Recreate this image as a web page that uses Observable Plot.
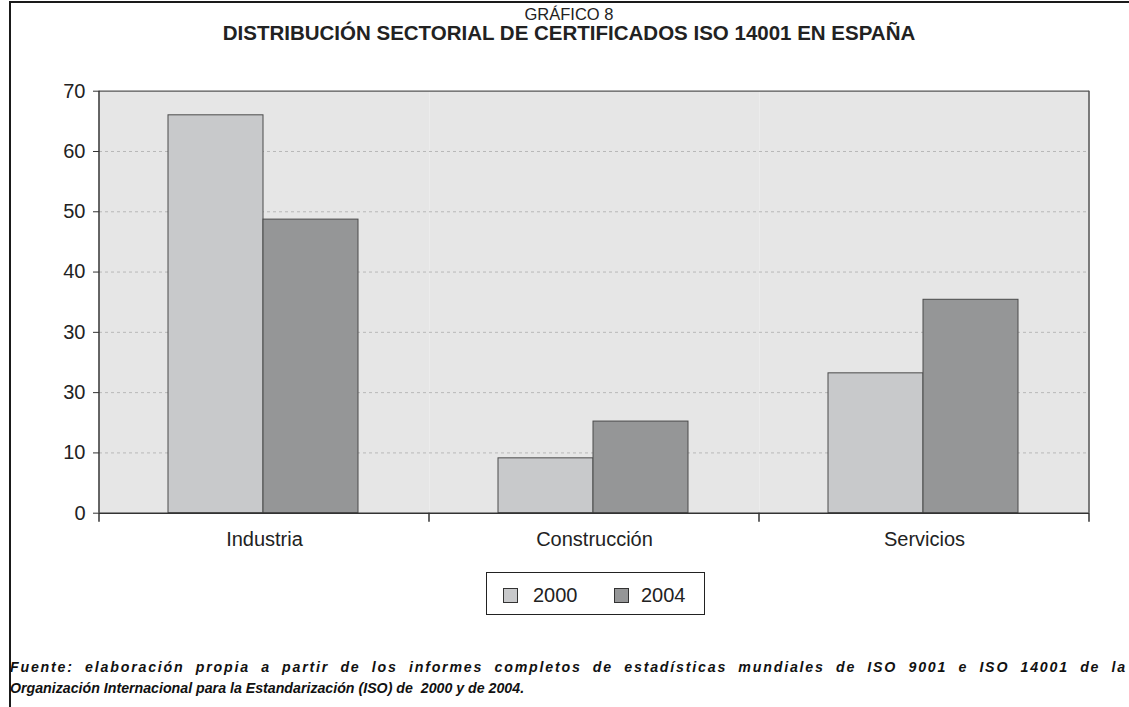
<!DOCTYPE html>
<html>
<head>
<meta charset="utf-8">
<script src="https://cdn.jsdelivr.net/npm/d3@7"></script>
<script src="https://cdn.jsdelivr.net/npm/@observablehq/plot@0.6"></script>
<style>
  html, body { margin: 0; padding: 0; background: #fff; }
  #page { position: relative; width: 1129px; height: 707px; overflow: hidden; font-family: "Liberation Sans", Arial, sans-serif; color: #222; }
  #border { position: absolute; left: 9px; top: 1px; width: 1130px; height: 720px; border-left: 2px solid #1a1a1a; border-top: 2px solid #1a1a1a; }
  .t1 { position: absolute; left: 0; width: 1138px; text-align: center; font-size: 16.5px; line-height: 16.5px; top: 6px; }
  .t2 { position: absolute; left: 0; width: 1138px; text-align: center; font-size: 20.5px; line-height: 20.5px; font-weight: bold; top: 23px; }
  #chart { position: absolute; left: 0; top: 60px; }
  #legend { position: absolute; left: 486px; top: 572px; width: 217px; height: 41px; border: 1.5px solid #222; }
  .sw { position: absolute; width: 13px; height: 13px; border: 1px solid #333; top: 15px; }
  .lt { position: absolute; font-size: 20px; line-height: 20px; top: 12px; color: #222; }
  .foot { position: absolute; left: 10px; width: 1117px; font-size: 14.2px; line-height: 21px; font-weight: bold; font-style: italic; color: #111; white-space: pre; }
  #f1 { top: 657px; text-align: justify; text-align-last: justify; white-space: normal; letter-spacing: 1.8px; }
  #f2 { top: 678px; }
</style>
</head>
<body>
<div id="page">
  <div id="border"></div>
  <div class="t1" id="title1"></div>
  <div class="t2" id="title2"></div>
  <div id="chart"></div>
  <div id="legend"></div>
  <div class="foot" id="f1"></div>
  <div class="foot" id="f2"></div>
</div>
<script>
// ---- data ----
const categories = ["Industria", "Construcción", "Servicios"];
const years = ["2000", "2004"];
const values2000 = [66, 9.1, 23.2];
const values2004 = [48.7, 15.2, 35.4];
const yTicks = [0, 10, 20, 30, 40, 50, 60, 70];
const yTickLabels = ["0", "10", "30", "30", "40", "50", "60", "70"];
const gridTicks = [10, 20, 30, 40, 50, 60];
const yearColors = ["#c8c9cb", "#959697"];
const titleTop = "GRÁFICO 8";
const titleMain = "DISTRIBUCIÓN SECTORIAL DE CERTIFICADOS ISO 14001 EN ESPAÑA";
const footLine1 = "Fuente: elaboración propia a partir de los informes completos de estadísticas mundiales de ISO 9001 e ISO 14001 de la";
const footLine2 = "Organización Internacional para la Estandarización (ISO) de  2000 y de 2004.";

const data = [];
categories.forEach((c, i) => {
  data.push({category: c, year: years[0], value: values2000[i]});
  data.push({category: c, year: years[1], value: values2004[i]});
});

document.getElementById("title1").textContent = titleTop;
document.getElementById("title2").textContent = titleMain;
document.getElementById("f1").textContent = footLine1;
document.getElementById("f2").textContent = footLine2;

const chart = Plot.plot({
  width: 1129,
  height: 500,
  marginLeft: 98,
  marginRight: 39,
  marginTop: 30.7,
  marginBottom: 47.3,
  style: {fontFamily: '"Liberation Sans", Arial, sans-serif', background: "transparent", color: "#222", overflow: "visible"},
  fx: {domain: categories, padding: 0, label: null},
  x: {domain: years, paddingInner: 0, paddingOuter: 0.735, align: 0.49, axis: null},
  y: {domain: [0, 70]},
  color: {domain: years, range: yearColors},
  marks: [
    Plot.frame({fill: "#e6e6e6", stroke: "none"}),
    Plot.gridY(gridTicks, {stroke: "#b8b8b8", strokeDasharray: "3,3", strokeOpacity: 1}),
    Plot.barY(data, {fx: "category", x: "year", y: "value", fill: "year", stroke: "#4a4a4a", strokeWidth: 1}),
    Plot.ruleY([70], {stroke: "#555", strokeWidth: 1.2}),
    Plot.ruleY([0], {stroke: "#333", strokeWidth: 1.5}),
    Plot.axisY({ticks: yTicks, tickFormat: d => yTickLabels[yTicks.indexOf(d)], tickSize: 6, tickPadding: 8, fontSize: 20, label: null, stroke: "#333"}),
    Plot.axisFx({anchor: "bottom", tickSize: 0, tickPadding: 19, fontSize: 20, label: null})
  ]
});
document.getElementById("chart").appendChild(chart);

// axis lines and boundary ticks from the library's scales
const fx = chart.scale("fx");
const ys = chart.scale("y");
const y0 = ys.apply(0), y70 = ys.apply(70);
const bounds = categories.map(c => fx.apply(c)).concat([fx.apply(categories[categories.length - 1]) + fx.bandwidth]);
const svg = d3.select(chart);
const g = svg.append("g");
bounds.forEach((bx, i) => {
  g.append("line").attr("x1", bx).attr("x2", bx).attr("y1", y0).attr("y2", y0 + 9).attr("stroke", "#333").attr("stroke-width", 1.5);
});
g.append("line").attr("x1", bounds[0]).attr("x2", bounds[0]).attr("y1", y70).attr("y2", y0).attr("stroke", "#333").attr("stroke-width", 1.5);
g.append("line").attr("x1", bounds[bounds.length - 1]).attr("x2", bounds[bounds.length - 1]).attr("y1", y70).attr("y2", y0).attr("stroke", "#555").attr("stroke-width", 1.5);

// legend
const legend = document.getElementById("legend");
const swX = [16, 127], txX = [46, 154];
years.forEach((yr, i) => {
  const s = document.createElement("div");
  s.className = "sw"; s.style.left = swX[i] + "px"; s.style.background = yearColors[i];
  legend.appendChild(s);
  const t = document.createElement("div");
  t.className = "lt"; t.style.left = txX[i] + "px"; t.textContent = yr;
  legend.appendChild(t);
});
</script>
</body>
</html>
